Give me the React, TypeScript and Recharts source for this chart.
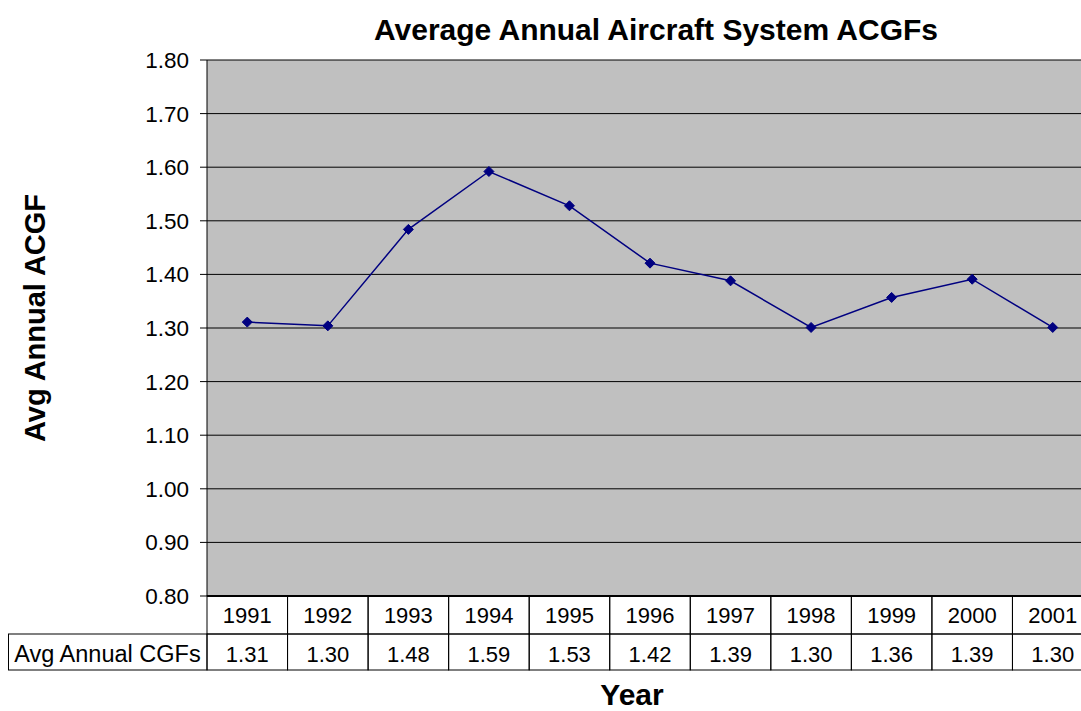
import React from 'react';
import { LineChart, Line, XAxis, YAxis, CartesianGrid, Customized } from 'recharts';

const years = ['1991', '1992', '1993', '1994', '1995', '1996', '1997', '1998', '1999', '2000', '2001'];
const acgf = [1.311, 1.304, 1.484, 1.592, 1.528, 1.421, 1.388, 1.301, 1.357, 1.391, 1.301];
const yTicks = [0.8, 0.9, 1.0, 1.1, 1.2, 1.3, 1.4, 1.5, 1.6, 1.7, 1.8];

const data = years.map((year, i) => ({ year, acgf: acgf[i] }));

const FONT = '"Liberation Sans", Arial, sans-serif';
const CHART_W = 1093;
const CHART_H = 711;
const PLOT_LEFT = 207;
const COL_W = (CHART_W - PLOT_LEFT) / years.length;
const ROW1_H = 38;
const ROW2_H = 36;

function TableTick(props: any) {
  const { x, y, payload } = props;
  const i = payload.index;
  const left = x - COL_W / 2;
  return (
    <g>
      <rect x={left} y={y} width={COL_W} height={ROW1_H} fill="none" stroke="#000" strokeWidth={1} />
      <rect x={left} y={y + ROW1_H} width={COL_W} height={ROW2_H} fill="none" stroke="#000" strokeWidth={1} />
      <text x={x} y={y + 27} textAnchor="middle" fontSize={22} fontFamily={FONT} fill="#000">
        {payload.value}
      </text>
      <text x={x} y={y + ROW1_H + 28} textAnchor="middle" fontSize={22} fontFamily={FONT} fill="#000">
        {acgf[i].toFixed(2)}
      </text>
      {i === 0 && (
        <g>
          <rect x={8.5} y={y + ROW1_H} width={left - 8.5} height={ROW2_H} fill="none" stroke="#000" strokeWidth={1} />
          <text x={(8 + left) / 2} y={y + ROW1_H + 28} textAnchor="middle" fontSize={23.5} fontFamily={FONT} fill="#000">
            Avg Annual CGFs
          </text>
        </g>
      )}
    </g>
  );
}

function Diamond(props: any) {
  const { cx, cy, index } = props;
  const r = 5;
  return (
    <path
      key={`d-${index}`}
      d={`M${cx} ${cy - r}L${cx + r} ${cy}L${cx} ${cy + r}L${cx - r} ${cy}Z`}
      fill="#000080"
      stroke="#000080"
    />
  );
}

function Labels() {
  return (
    <g fontFamily={FONT} fontWeight="bold" fill="#000">
      <text x={656} y={40} textAnchor="middle" fontSize={30}>
        Average Annual Aircraft System ACGFs
      </text>
      <text x={0} y={0} textAnchor="middle" fontSize={29} transform="translate(45 318) rotate(-90)">
        Avg Annual ACGF
      </text>
      <text x={632} y={705} textAnchor="middle" fontSize={30}>
        Year
      </text>
    </g>
  );
}

export default function App() {
  return (
    <div
      style={{
        position: 'fixed',
        left: 0,
        top: 0,
        width: 1081,
        height: 711,
        overflow: 'hidden',
        background: '#fff',
      }}
    >
      <LineChart width={CHART_W} height={CHART_H} data={data} margin={{ top: 60, right: 0, bottom: 0, left: 0 }}>
        <CartesianGrid vertical={false} stroke="#000" strokeWidth={1} fill="#C0C0C0" fillOpacity={1} />
        <XAxis
          dataKey="year"
          interval={0}
          height={115}
          padding={{ left: COL_W / 2, right: COL_W / 2 }}
          tickSize={0}
          tickMargin={0}
          tickLine={false}
          axisLine={{ stroke: '#000', strokeWidth: 2 }}
          tick={<TableTick />}
        />
        <YAxis
          width={PLOT_LEFT}
          domain={[0.8, 1.8]}
          ticks={yTicks}
          tickFormatter={(v: number) => v.toFixed(2)}
          tickSize={7}
          tickMargin={11}
          axisLine={{ stroke: '#000' }}
          tickLine={{ stroke: '#000' }}
          tick={{ fontSize: 22.5, fill: '#000', fontFamily: FONT }}
        />
        <Line
          type="linear"
          dataKey="acgf"
          stroke="#000080"
          strokeWidth={1.5}
          dot={Diamond}
          activeDot={false}
          isAnimationActive={false}
        />
        <Customized component={Labels} />
      </LineChart>
    </div>
  );
}
